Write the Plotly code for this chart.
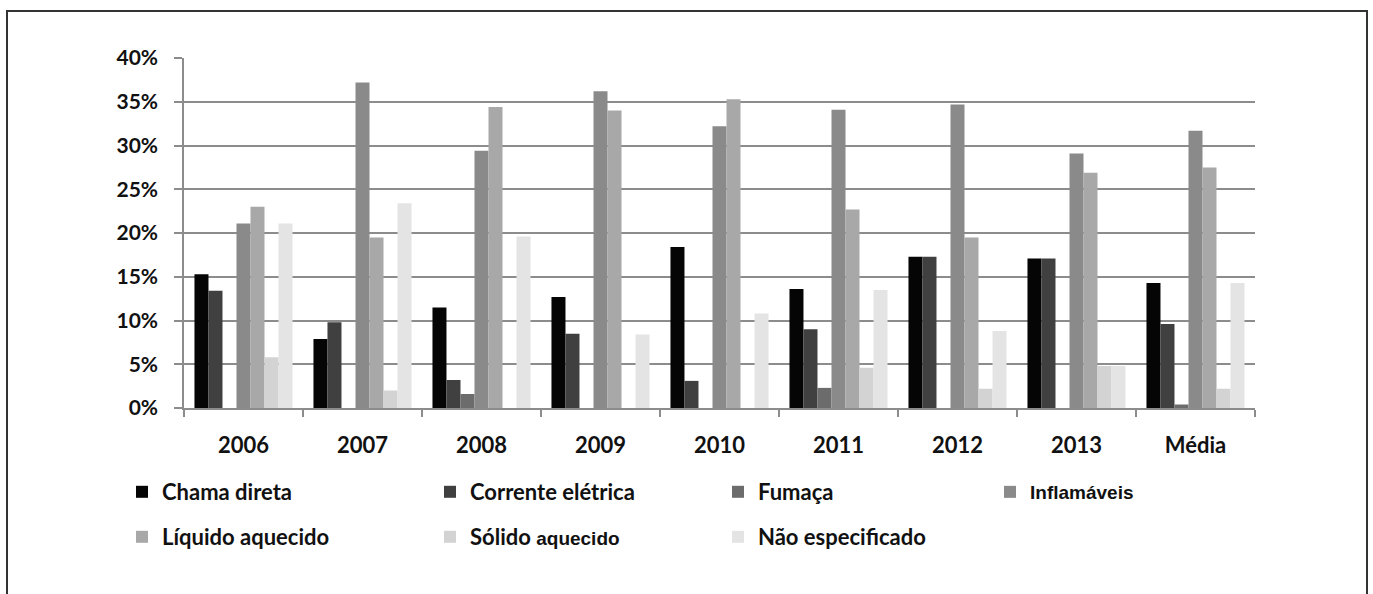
import plotly.graph_objects as go

# Categories (years plus the overall mean)
categories = ["2006", "2007", "2008", "2009", "2010", "2011", "2012", "2013", "Média"]

# Share of occurrences by cause (%)
chama_direta = [15.3, 7.9, 11.5, 12.7, 18.4, 13.6, 17.3, 17.1, 14.3]
corrente_eletrica = [13.4, 9.8, 3.2, 8.5, 3.1, 9.0, 17.3, 17.1, 9.6]
fumaca = [0.0, 0.0, 1.6, 0.0, 0.0, 2.3, 0.0, 0.0, 0.4]
inflamaveis = [21.1, 37.2, 29.4, 36.2, 32.2, 34.1, 34.7, 29.1, 31.7]
liquido_aquecido = [23.0, 19.5, 34.4, 34.0, 35.3, 22.7, 19.5, 26.9, 27.5]
solido_aquecido = [5.8, 2.0, 0.0, 0.0, 0.0, 4.6, 2.2, 4.8, 2.2]
nao_especificado = [21.1, 23.4, 19.6, 8.4, 10.8, 13.5, 8.8, 4.8, 14.3]

y_ticks = [0, 5, 10, 15, 20, 25, 30, 35, 40]
y_tick_labels = ["0%", "5%", "10%", "15%", "20%", "25%", "30%", "35%", "40%"]

FONT = "Lato"
ARIAL = "Liberation Sans"

series = [
    ("Chama direta", chama_direta, "#050505", "legend"),
    ("Corrente elétrica", corrente_eletrica, "#404040", "legend2"),
    ("Fumaça", fumaca, "#6c6c6c", "legend3"),
    ("<b>Inflamáveis</b>", inflamaveis, "#8a8a8a", "legend4"),
    ("Líquido aquecido", liquido_aquecido, "#a8a8a8", "legend5"),
    ("Sólido <span style='font-family:Liberation Sans;font-size:19px;font-weight:bold'>aquecido</span>",
     solido_aquecido, "#d3d3d3", "legend6"),
    ("Não especificado", nao_especificado, "#e4e4e4", "legend7"),
]

fig = go.Figure()
for name, values, color, leg in series:
    fig.add_trace(go.Bar(
        x=categories, y=values, name=name, legend=leg, showlegend=True,
        marker=dict(color=color, line=dict(width=0)),
    ))

# plot area in pixels: x 184..1255, y 58..408
W, H = 1373, 594
L, R, T, B = 184, 118, 58, 186
pw, ph = W - L - R, H - T - B


def px(x):
    return (x - L) / pw


def py(y):
    return (H - B - y) / ph


legend_font = dict(family=FONT, size=22, color="#111111", weight="bold")


def leg(xp, yp, font=None):
    return dict(
        x=px(xp), y=py(yp), xanchor="left", yanchor="middle",
        orientation="h", bgcolor="rgba(0,0,0,0)", borderwidth=0,
        font=font or legend_font, itemclick=False, itemdoubleclick=False,
        visible=True,
    )


fig.update_layout(
    width=W, height=H,
    margin=dict(l=L, r=R, t=T, b=B, pad=0),
    paper_bgcolor="white", plot_bgcolor="white",
    showlegend=True,
    barmode="group", bargap=0.176, bargroupgap=0,
    legend=leg(122, 492),
    legend2=leg(430, 492),
    legend3=leg(718, 492),
    legend4=leg(990, 492, dict(family=ARIAL, size=19, color="#111111", weight="bold")),
    legend5=leg(122, 537),
    legend6=leg(430, 537),
    legend7=leg(718, 537),
    xaxis=dict(
        type="category", showgrid=False,
        showline=True, linecolor="#8c8c8c", linewidth=1.5,
        ticks="outside", tickson="boundaries", ticklen=7, tickcolor="#8c8c8c", tickwidth=1.5,
        tickfont=dict(family=FONT, size=22, color="#111111", weight="bold"),
        ticklabelstandoff=17,
    ),
    yaxis=dict(
        range=[0, 40], tickvals=y_ticks, ticktext=y_tick_labels,
        showgrid=True, gridcolor="#8c8c8c", gridwidth=1.5,
        showline=True, linecolor="#8c8c8c", linewidth=1.5,
        ticks="outside", ticklen=8, tickcolor="#8c8c8c", tickwidth=1.5,
        tickfont=dict(family=FONT, size=21, color="#111111", weight="bold"),
        ticklabelstandoff=12, zeroline=False,
    ),
    shapes=[dict(
        type="rect", xref="paper", yref="paper",
        x0=px(7), x1=px(1367), y0=py(620), y1=py(11),
        line=dict(color="#333333", width=2), fillcolor="rgba(0,0,0,0)", layer="below",
    )],
)

fig.write_html("out.html")
